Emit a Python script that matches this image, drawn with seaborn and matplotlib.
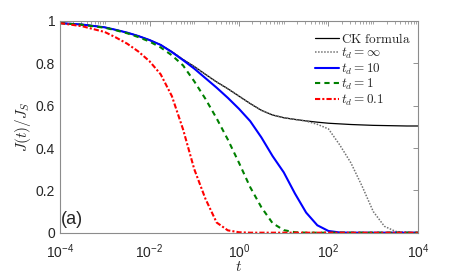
import numpy as np
import pandas as pd
import matplotlib
matplotlib.use("Agg")
import matplotlib.pyplot as plt
import seaborn as sns
from matplotlib.ticker import LogLocator, NullFormatter

# --- values (log10 of t, and J(t)/J_S) ---
log_t = [-4, -3.5, -3, -2.75, -2.5, -2.25, -2, -1.75, -1.5, -1.25, -1, -0.75,
         -0.5, -0.25, 0, 0.25, 0.5, 0.75, 1, 1.25, 1.5, 1.75, 2, 2.25, 2.5,
         2.75, 3, 3.25, 3.5, 3.75, 4]

ck_formula = [0.990, 0.983, 0.970, 0.958, 0.945, 0.929, 0.910, 0.887, 0.855,
              0.818, 0.785, 0.748, 0.712, 0.680, 0.645, 0.610, 0.578, 0.556,
              0.543, 0.535, 0.528, 0.522, 0.517, 0.514, 0.511, 0.509, 0.507,
              0.506, 0.505, 0.504, 0.504]
td_inf = [0.990, 0.983, 0.970, 0.958, 0.945, 0.929, 0.910, 0.887, 0.855,
          0.818, 0.785, 0.748, 0.712, 0.680, 0.645, 0.610, 0.578, 0.556,
          0.543, 0.535, 0.527, 0.512, 0.490, 0.415, 0.330, 0.220, 0.100,
          0.030, 0.006, 0.001, 0.0]
td_10 = [0.990, 0.983, 0.970, 0.958, 0.945, 0.929, 0.910, 0.887, 0.853,
         0.815, 0.775, 0.730, 0.685, 0.637, 0.585, 0.527, 0.450, 0.362,
         0.285, 0.185, 0.095, 0.035, 0.008, 0.001, 0.0, 0.0, 0.0, 0.0, 0.0,
         0.0, 0.0]
td_1 = [0.990, 0.982, 0.968, 0.956, 0.942, 0.924, 0.903, 0.875, 0.838, 0.790,
        0.715, 0.632, 0.540, 0.440, 0.330, 0.215, 0.120, 0.045, 0.012, 0.002,
        0.0, 0.0, 0.0, 0.0, 0.0, 0.0, 0.0, 0.0, 0.0, 0.0, 0.0]
td_01 = [0.990, 0.975, 0.948, 0.922, 0.893, 0.856, 0.810, 0.748, 0.645,
         0.488, 0.300, 0.160, 0.048, 0.011, 0.002, 0.0, 0.0, 0.0, 0.0, 0.0,
         0.0, 0.0, 0.0, 0.0, 0.0, 0.0, 0.0, 0.0, 0.0, 0.0, 0.0]

labels = [r"$\mathrm{CK\ formula}$", r"$t_d = \infty$", r"$t_d = 10$",
          r"$t_d = 1$", r"$t_d = 0.1$"]

t = np.power(10.0, log_t)

sns.set_style("white")
plt.rcParams["font.family"] = ["Liberation Sans", "DejaVu Sans"]
plt.rcParams["mathtext.fontset"] = "cm"

fig = plt.figure(figsize=(4.63, 2.78), dpi=100)
ax = fig.add_axes([0.1296, 0.163, 0.7732, 0.7615])

styles = [
    dict(color="black", lw=0.9, linestyle="-"),
    dict(color="0.45", lw=1.1, linestyle=(0, (1, 1))),
    dict(color="#0000ff", lw=1.5, linestyle="-"),
    dict(color="#008000", lw=1.5, linestyle=(0, (2.5, 2))),
    dict(color="#ff0000", lw=1.5, linestyle=(0, (2.5, 1, 1, 1))),
]
series = [ck_formula, td_inf, td_10, td_1, td_01]

for vals, lab, st in zip(series, labels, styles):
    df = pd.DataFrame({"t": t, "J": vals})
    sns.lineplot(data=df, x="t", y="J", ax=ax, label=lab, **st)

ax.set_xscale("log")
ax.set_xlim(1e-4, 1e4)
ax.set_ylim(0, 1)
ax.set_xticks([1e-4, 1e-2, 1, 1e2, 1e4])
ax.xaxis.set_minor_locator(LogLocator(base=10, subs=np.arange(1, 10), numticks=100))
ax.xaxis.set_minor_formatter(NullFormatter())
ax.set_yticks([0, 0.2, 0.4, 0.6, 0.8, 1])
ax.set_yticklabels(["0", "0.2", "0.4", "0.6", "0.8", "1"])

ax.tick_params(which="both", direction="in", top=True, right=True,
               color="0.5", labelcolor="0.15", labelsize=10)
ax.tick_params(which="major", length=3.5, width=0.6)
ax.tick_params(which="minor", length=2, width=0.5)
ax.tick_params(axis="x", which="major", pad=7)
for sp in ax.spines.values():
    sp.set_color("0.55")
    sp.set_linewidth(0.8)

ax.set_xlabel(r"$t$", fontsize=11, labelpad=-1)
ax.set_ylabel(r"$J(t)/J_S$", fontsize=11, labelpad=2)

ax.text(0.003, 0.02, "(a)", transform=ax.transAxes, fontsize=13,
        ha="left", va="bottom")

ax.legend(loc="upper right", bbox_to_anchor=(1.01, 1.0), frameon=False,
          fontsize=9.5, handlelength=1.8, handletextpad=0.15,
          labelspacing=0.02, borderaxespad=0.4)

fig.savefig("out.png", dpi=100)
